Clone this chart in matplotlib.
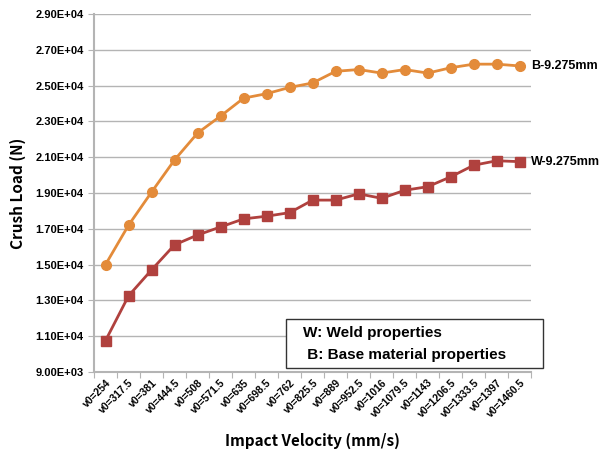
import matplotlib.pyplot as plt
from matplotlib.patches import Rectangle
from matplotlib.ticker import FuncFormatter

velocities = [
    "254", "317.5", "381", "444.5", "508", "571.5", "635", "698.5", "762",
    "825.5", "889", "952.5", "1016", "1079.5", "1143", "1206.5", "1333.5",
    "1397", "1460.5",
]
base_load = [
    15000, 17200, 19050, 20850, 22350, 23300, 24300, 24550, 24900,
    25150, 25800, 25900, 25700, 25900, 25700, 26000, 26200, 26200, 26100,
]
weld_load = [
    10750, 13250, 14700, 16100, 16650, 17100, 17550, 17700, 17900,
    18600, 18600, 18950, 18700, 19150, 19350, 19900, 20550, 20800, 20750,
]

ORANGE = "#E38B3A"
RED = "#B0413E"
GRID = "#B4B4B4"

plt.rcParams["font.family"] = ["Liberation Sans", "DejaVu Sans"]

fig = plt.figure(figsize=(6.03, 4.54), dpi=100)
ax = fig.add_axes([0.156, 0.181, 0.725, 0.788])

x = list(range(len(velocities)))
ax.plot(x, base_load, color=ORANGE, marker="o", markersize=7, linewidth=2)
ax.plot(x, weld_load, color=RED, marker="s", markersize=7, linewidth=2)

ax.set_xlim(-0.5, len(velocities) - 0.5)
ax.set_ylim(9000, 29000)
ax.set_yticks(range(9000, 29001, 2000))
ax.yaxis.set_major_formatter(FuncFormatter(lambda v, _: f"{v:.2E}"))
ax.set_xticks([i - 0.5 for i in range(len(velocities) + 1)], minor=False)
ax.set_xticklabels([])
ax.set_xticks(x, minor=True)
ax.set_xticklabels([f"v0={v}" for v in velocities], minor=True,
                   rotation=45, ha="right", rotation_mode="anchor",
                   fontsize=7.5, fontweight="bold")
ax.tick_params(axis="x", which="minor", length=0, pad=4)
ax.tick_params(axis="x", which="major", length=4, color=GRID, direction="out")
ax.tick_params(axis="y", length=4, color=GRID, labelsize=8)
for lab in ax.get_yticklabels():
    lab.set_fontweight("bold")

ax.grid(axis="y", color=GRID, linewidth=1)
ax.set_axisbelow(True)
for side in ["top", "right"]:
    ax.spines[side].set_visible(False)
for side in ["left", "bottom"]:
    ax.spines[side].set_color(GRID)
    ax.spines[side].set_linewidth(1.5)

ax.set_ylabel("Crush Load (N)", fontsize=11, fontweight="bold",
              family=["Noto Sans CJK KR", "DejaVu Sans"], labelpad=7)
ax.set_xlabel("Impact Velocity (mm/s)", fontsize=11, fontweight="bold",
              family=["Noto Sans CJK KR", "DejaVu Sans"], labelpad=10)

ax.annotate("B-9.275mm", (x[-1], base_load[-1]), xytext=(8, 0),
            textcoords="offset points", va="center", fontsize=9,
            fontweight="bold", annotation_clip=False)
ax.annotate("W-9.275mm", (x[-1], weld_load[-1]), xytext=(8, 0),
            textcoords="offset points", va="center", fontsize=9,
            fontweight="bold", annotation_clip=False)

W, H = 603, 454
fig.patches.append(Rectangle((286 / W, 1 - 368 / H), 257 / W, 49 / H,
                             transform=fig.transFigure, facecolor="white",
                             edgecolor="#333333", linewidth=1, zorder=5))
fig.text(303 / W, 1 - 333 / H, "W: Weld properties", fontsize=11,
         fontweight="bold", va="center", ha="left", zorder=6)
fig.text(303 / W, 1 - 355 / H, " B: Base material properties", fontsize=11,
         fontweight="bold", va="center", ha="left", zorder=6)

fig.savefig("out.png", dpi=100)
